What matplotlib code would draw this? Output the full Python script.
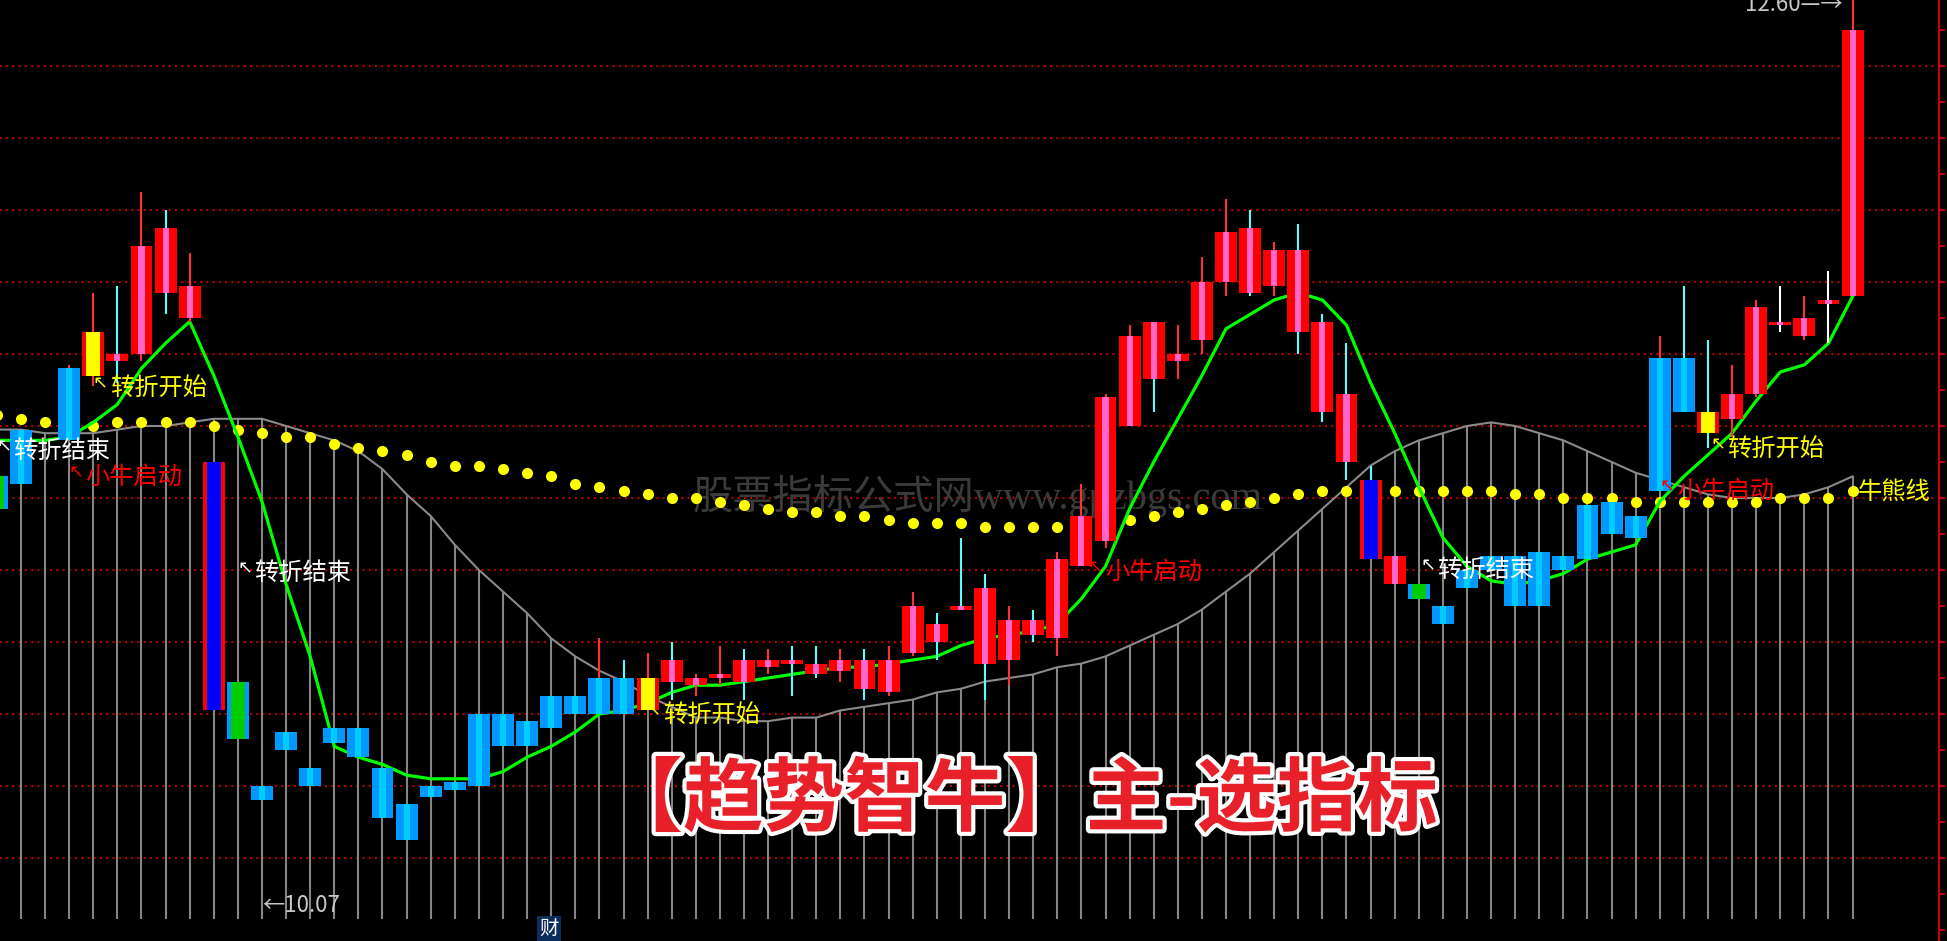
import matplotlib
matplotlib.use("Agg")
import matplotlib.pyplot as plt
import matplotlib.patheffects as pe
import numpy as np

plt.rcParams['font.family'] = ['Noto Sans CJK SC', 'DejaVu Sans']

# ---------------- data ----------------
# candle slots -1 .. 76 (slot -1 is cut by the left edge, slot 1 has no body)
idx = np.arange(-1, 77)

# body kind: r = red, b = blue, bx = blue in red frame, g = green in blue frame, y = yellow in red frame
kind = (['g', 'b', '', 'b', 'y', 'r', 'r', 'r', 'r', 'bx', 'g'] + ['b'] * 16 + ['y']
        + ['r'] * 29 + ['bx', 'r', 'g'] + ['b'] * 11 + ['y'] + ['r'] * 6)

nan = np.nan
body_top = [11.26, 11.39, nan, 11.56, 11.66, 11.60, 11.90, 11.95, 11.79, 11.30, 10.69,
            10.40, 10.55, 10.45, 10.56, 10.56, 10.45, 10.35, 10.40, 10.41, 10.60, 10.60, 10.58,
            10.65, 10.65, 10.70, 10.70,
            10.70,
            10.75, 10.70, 10.71, 10.75, 10.75, 10.75, 10.74, 10.75, 10.75, 10.75, 10.90, 10.85,
            10.90, 10.95, 10.86, 10.86, 11.03, 11.15, 11.48, 11.65, 11.69, 11.60, 11.80, 11.94,
            11.95, 11.89, 11.89, 11.69, 11.49,
            11.25, 11.04, 10.96,
            10.90, 11.00, 11.04, 11.04, 11.05, 11.04, 11.18, 11.19, 11.15, 11.59, 11.59,
            11.44,
            11.49, 11.73, 11.69, 11.70, 11.75, 12.50]
body_bot = [11.17, 11.24, nan, 11.36, 11.54, 11.58, 11.60, 11.77, 11.70, 10.61, 10.53,
            10.36, 10.50, 10.40, 10.52, 10.48, 10.31, 10.25, 10.37, 10.39, 10.40, 10.51, 10.51,
            10.56, 10.60, 10.60, 10.60,
            10.61,
            10.69, 10.68, 10.70, 10.69, 10.73, 10.74, 10.71, 10.72, 10.67, 10.66, 10.77, 10.80,
            10.89, 10.74, 10.75, 10.82, 10.81, 11.01, 11.08, 11.40, 11.53, 11.58, 11.64, 11.80,
            11.77, 11.79, 11.66, 11.44, 11.30,
            11.03, 10.96, 10.92,
            10.85, 10.95, 11.00, 10.90, 10.90, 11.00, 11.03, 11.10, 11.09, 11.22, 11.44,
            11.38,
            11.42, 11.49, 11.68, 11.65, 11.74, 11.76]
high = ([nan, nan, nan, 11.57, 11.77, 11.79, 12.05, 12.00, 11.88, nan, nan]
        + [nan] * 14 + [10.81, 10.75, 10.77]
        + [10.80, 10.71, 10.79, 10.78, 10.78, 10.79, 10.79, 10.78, 10.78, 10.79, 10.94, 10.88,
           11.09, 10.99, 10.90, 10.89, 11.05, 11.24, 11.49, 11.68, 11.69, 11.68, 11.87, 12.03,
           12.00, 11.91, 11.96, 11.71, 11.63]
        + [11.29, nan, nan] + [nan] * 9 + [11.65, 11.79, 11.64]
        + [11.57, 11.75, 11.79, 11.76, 11.83, 12.60])
low = ([nan, nan, nan, 11.36, 11.51, 11.52, 11.58, 11.71, 11.69, nan, nan]
       + [nan] * 14 + [10.60, 10.60, 10.61]
       + [10.64, 10.65, 10.68, 10.64, 10.71, 10.65, 10.70, 10.69, 10.64, 10.65, 10.76, 10.75,
          10.89, 10.64, 10.68, 10.80, 10.76, 11.01, 11.06, 11.40, 11.44, 11.53, 11.60, 11.76,
          11.76, 11.76, 11.60, 11.41, 11.25]
       + [11.03, nan, nan] + [nan] * 9 + [11.22, 11.44, 11.34]
       + [11.37, 11.48, 11.66, 11.64, 11.63, 11.76])
# wick colour: r red, c cyan, w white, '' none
wick = (['', '', '', 'r', 'r', 'c', 'r', 'c', 'r', '', ''] + [''] * 14 + ['r', 'c', 'r']
        + ['c', 'r', 'r', 'c', 'r', 'c', 'c', 'r', 'c', 'r', 'r', 'c', 'c', 'c', 'r', 'c',
           'r', 'r', 'r', 'r', 'c', 'r', 'r', 'r', 'c', 'r', 'c', 'c', 'c']
        + ['c', '', ''] + [''] * 9 + ['r', 'c', 'c'] + ['r', 'r', 'w', 'r', 'w', 'r'])

# green trend line
trend = [11.36, 11.36, 11.36, 11.37, 11.41, 11.46, 11.56, 11.63, 11.69, 11.54, 11.37,
         11.19, 10.96, 10.76, 10.51, 10.48, 10.46, 10.43, 10.42, 10.42, 10.42, 10.44, 10.48,
         10.51, 10.55, 10.60, 10.61, 10.63, 10.66, 10.68, 10.68, 10.69, 10.70, 10.71, 10.72,
         10.73, 10.73, 10.74, 10.75, 10.76, 10.79, 10.81, 10.82, 10.83, 10.85, 10.92, 11.01,
         11.17, 11.30, 11.42, 11.54, 11.67, 11.71, 11.75, 11.77, 11.75, 11.68, 11.52, 11.38,
         11.23, 11.09, 11.01, 10.97, 10.96, 10.97, 10.99, 11.03, 11.05, 11.07, 11.19, 11.26,
         11.32, 11.38, 11.47, 11.55, 11.57, 11.63, 11.76]
# yellow dotted bull/bear line
bull_bear = [11.43, 11.42, 11.41, 11.41, 11.40, 11.41, 11.41, 11.41, 11.41, 11.40, 11.39,
             11.38, 11.37, 11.37, 11.35, 11.34, 11.33, 11.32, 11.30, 11.29, 11.29, 11.28, 11.27,
             11.26, 11.24, 11.23, 11.22, 11.21, 11.20, 11.20, 11.19, 11.18, 11.17, 11.16, 11.16,
             11.15, 11.15, 11.14, 11.13, 11.13, 11.13, 11.12, 11.12, 11.12, 11.12, 11.13, 11.13,
             11.14, 11.15, 11.16, 11.17, 11.18, 11.19, 11.20, 11.21, 11.22, 11.22, 11.22, 11.22,
             11.22, 11.22, 11.22, 11.22, 11.21, 11.21, 11.20, 11.20, 11.20, 11.19, 11.19, 11.19,
             11.19, 11.19, 11.19, 11.20, 11.20, 11.20, 11.22]
# grey wave curve
wave = [11.39, 11.39, 11.38, 11.38, 11.38, 11.39, 11.40, 11.40, 11.41, 11.42, 11.42,
        11.42, 11.40, 11.38, 11.36, 11.33, 11.28, 11.21, 11.15, 11.07, 11.00, 10.94, 10.88,
        10.81, 10.76, 10.72, 10.69, 10.65, 10.62, 10.59, 10.59, 10.58, 10.58, 10.59, 10.59,
        10.61, 10.62, 10.63, 10.64, 10.66, 10.67, 10.69, 10.70, 10.71, 10.73, 10.74, 10.76,
        10.79, 10.82, 10.85, 10.89, 10.94, 10.99, 11.05, 11.11, 11.17, 11.23, 11.29, 11.33,
        11.36, 11.38, 11.40, 11.41, 11.40, 11.38, 11.36, 11.33, 11.30, 11.27, 11.25, 11.23,
        11.21, 11.20, 11.20, 11.20, 11.21, 11.23, 11.26]
wave_floor = 10.03

# signal labels: text, slot, price, colour, with arrow
labels = [('转折结束', -0.33, 11.331, 'white', True),
          ('小牛启动', 2.66, 11.258, 'red', True),
          ('转折开始', 3.69, 11.506, 'yellow', True),
          ('转折结束', 9.67, 10.992, 'white', True),
          ('转折开始', 26.64, 10.597, 'yellow', True),
          ('小牛启动', 44.98, 10.994, 'red', True),
          ('转折结束', 58.76, 11.000, 'white', True),
          ('小牛启动', 68.71, 11.219, 'red', True),
          ('转折开始', 70.79, 11.336, 'yellow', True),
          ('牛熊线', 76.22, 11.217, 'yellow', False)]

# ---------------- drawing ----------------
fig = plt.figure(figsize=(19.47, 9.41), dpi=100)
fig.patch.set_facecolor('black')
ax = fig.add_axes([0, 0, 1939 / 1947, 1])
ax.set_facecolor('black')
ax.set_xlim(-21 / 24.1, (1939 - 21) / 24.1)
ax.set_ylim(12.5833 - 941 / 360, 12.5833)

# red dotted price grid
for p in np.arange(10.2, 12.41, 0.2):
    ax.axhline(p, color='#B80000', lw=1.5, ls=(0, (1, 2)), zorder=0.5)

# grey wave with sticks to the floor
ax.vlines(idx, wave_floor, wave, colors='#858585', lw=1.5, zorder=1)
ax.plot(idx, wave, color='#8a8a8a', lw=1.5, zorder=1.1)

ax.text(39.71, 11.203, '股票指标公式网www.gpzbgs.com', color='#3a3a3a', fontsize=29,
        family=['Liberation Serif', 'Noto Sans CJK SC'], ha='center', va='center', zorder=1.5)

ax.plot(idx, bull_bear, 'o', color='#FFFF00', ms=8, mew=0, zorder=3)
ax.plot(idx, trend, color='#00FF00', lw=2.3, zorder=3.5)

WICK = {'r': '#FF3030', 'c': '#55FFFF', 'w': '#FFFFFF'}
BODY = {'r': ('#FF0000', '#FF66CC', 0.25), 'b': ('#0099FF', '#00CCFF', 0.25),
        'bx': ('#FF0000', '#0000FF', 0.58), 'g': ('#0099FF', '#00CC00', 0.58),
        'y': ('#FF0000', '#FFFF00', 0.58)}
W = 0.91
for x, k, t, b, h, l, wc in zip(idx, kind, body_top, body_bot, high, low, wick):
    if not k:
        continue
    if wc:
        ax.vlines(x, l, h, colors=WICK[wc], lw=1.5, zorder=4)
    hgt = max(t - b, 0.006)
    outer, inner, iw = BODY[k]
    ax.bar(x, hgt, W, b, color=outer, lw=0, zorder=5)
    ax.bar(x, hgt, iw, b, color=inner, lw=0, zorder=6)

# signal texts
for txt, sx, sy, col, arrow in labels:
    ax.text(sx, sy, txt, color=col, fontsize=17.5, ha='left', va='center', zorder=10)
    if arrow:
        ax.text(sx - 0.08, sy + 0.012, '↖', color=col, fontsize=13, family='DejaVu Sans',
                ha='right', va='center', zorder=10)

# max / min price marks (the max mark sits at the top edge and is cut, as on the screen)
ax.text(71.54, 12.572, '12.60—→', color='#C8C8C8', fontsize=16, ha='left', va='center', zorder=10)
ax.text(10.0, 10.067, '←10.07', color='#C8C8C8', fontsize=16, ha='left', va='center', zorder=10)

ax.text(21.91, 10.003, '财', color='white', fontsize=14, ha='center', va='center', zorder=10,
        bbox=dict(boxstyle='square,pad=0.12', fc='#0B2D5E', ec='none'))

ax.text(41.45, 10.358, '【趋势智牛】主-选指标', color='#E8202A', fontsize=58, weight='bold',
        ha='center', va='center', zorder=20,
        path_effects=[pe.withStroke(linewidth=6, foreground='white')])

# right price axis
for s in ['top', 'left', 'bottom']:
    ax.spines[s].set_visible(False)
ax.spines['right'].set_color('#C80000')
ax.spines['right'].set_linewidth(1.5)
ax.yaxis.tick_right()
ax.set_yticks(np.round(np.arange(10.0, 12.56, 0.1), 2))
ax.tick_params(axis='y', direction='out', length=4.5, width=1.5, color='#C80000',
               labelright=False, labelleft=False)
ax.set_xticks([])

fig.savefig('out.png', dpi=100, facecolor='black')
